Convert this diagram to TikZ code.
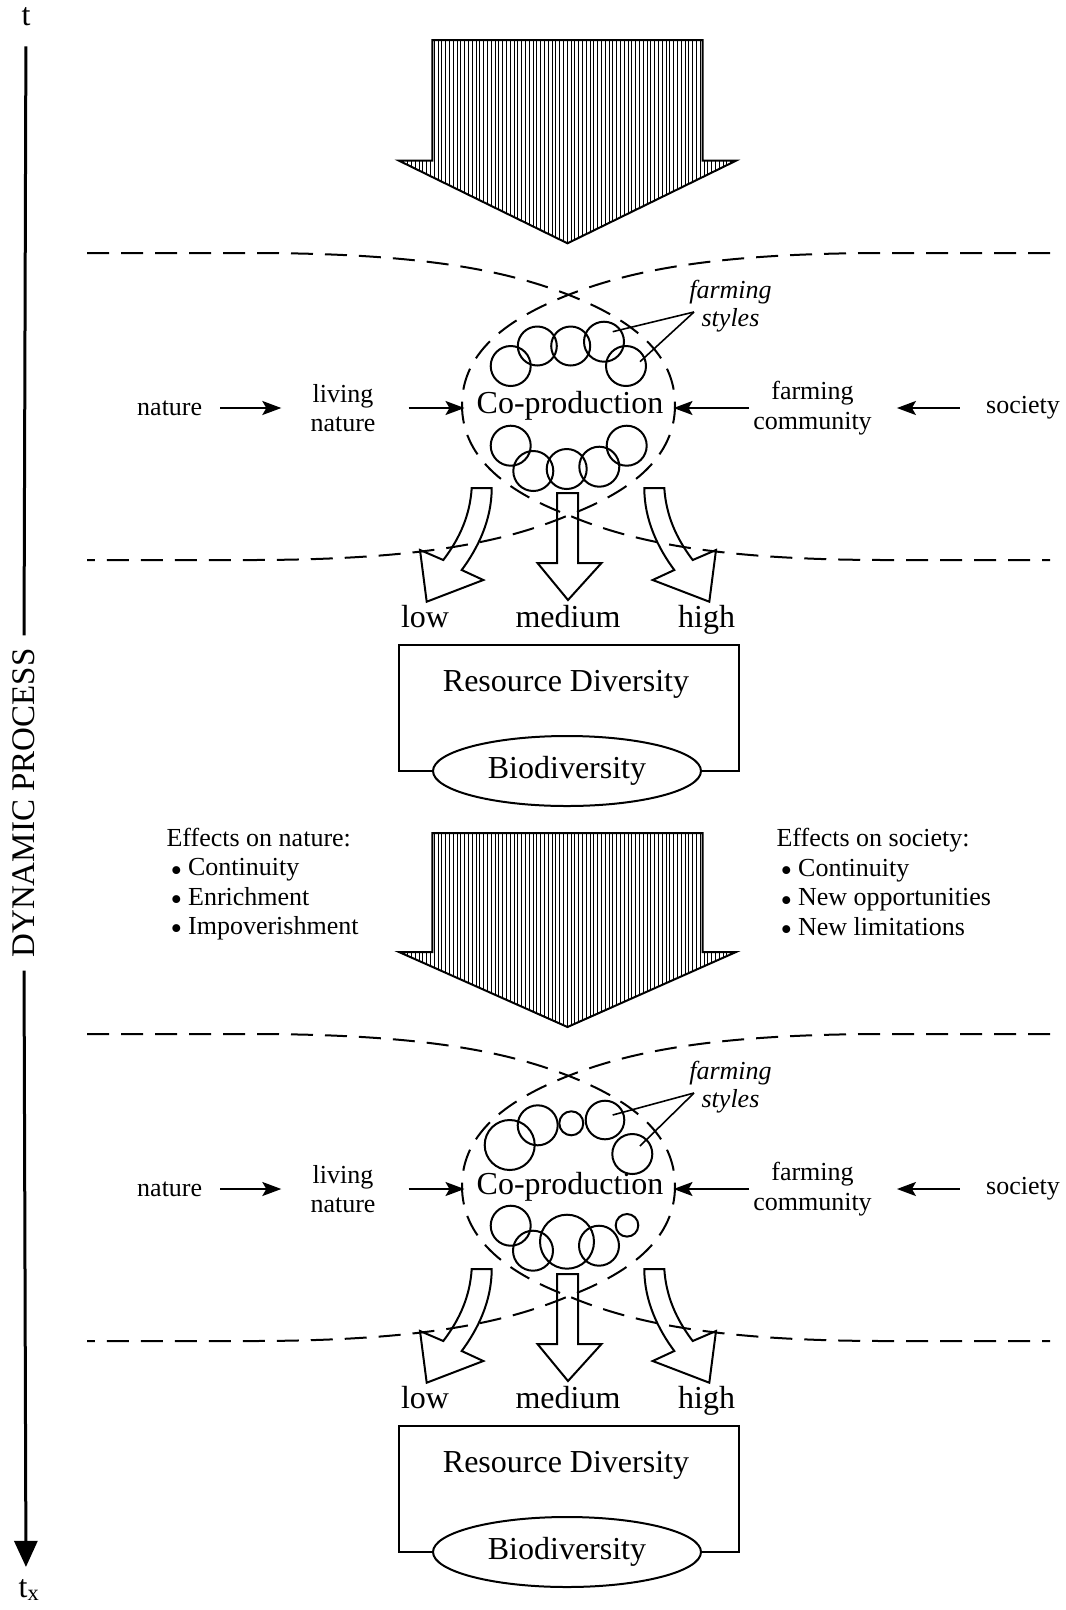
\documentclass[tikz,border=0pt]{standalone}
\usepackage{fontspec}
\setmainfont{Liberation Serif}
\usetikzlibrary{arrows.meta,calc,shapes.geometric}

\tikzset{
  txt/.style={font=\fontsize{26}{29.4}\selectfont, inner sep=0pt},
  big/.style={font=\fontsize{32}{36}\selectfont, inner sep=0pt},
  dashline/.style={line width=2pt, dash pattern=on 22pt off 12pt},
  ptr/.style={line width=2pt, -{Stealth[length=19pt,width=14pt,inset=4pt]}},
  blockarrow/.style={line width=2pt, line join=miter},
  farm/.style={circle, draw, line width=2pt, inner sep=0pt},
  leader/.style={line width=1.6pt},
}

% list bullet, set a little larger than the text
\newcommand\itemdot{\hspace{4pt}\smash{\raisebox{-5.5pt}{\fontsize{33}{29.4}\selectfont\textbullet}}\hspace{6pt}}

% hatched downward block arrow: #1 top, #2 shoulder, #3 tip
\newcommand\hatcharrow[3]{%
  \begin{scope}
    \clip (432.3,#1) -- (702.7,#1) -- (702.7,#2) -- (736,#2) -- (567.5,#3)
          -- (399,#2) -- (432.3,#2) -- cycle;
    \foreach \xx in {400,403.8,...,736}
      \draw[line width=0.9pt] (\xx,#1) -- (\xx,#3);
  \end{scope}
  \draw[blockarrow] (432.3,#1) -- (702.7,#1) -- (702.7,#2) -- (736,#2)
        -- (567.5,#3) -- (399,#2) -- (432.3,#2) -- cycle;
}

% one co-production stage: boundaries, inputs, outcomes, resource box
\newcommand\drawpanel[1]{%
  % crossing boundary curves
  \foreach \sx/\ox in {1/0,-1/1137}{
    \begin{scope}[xshift=\ox pt, xscale=\sx]
      \draw[dashline] (87,253) -- (250,253)
        .. controls (420,253) and (505,270) .. (569,295)
        .. controls (635,321) and (675,355) .. (675,405)
        .. controls (675,455) and (635,490) .. (569,515)
        .. controls (505,542) and (420,560) .. (250,560) -- (87,560);
    \end{scope}
  }
  % inputs
  \node[txt] (#1nat) at (169.7,408) {nature};
  \node[txt,align=center] (#1liv) at (343,408) {living\\nature};
  \node[big] (#1cop) at (570,406) {Co-production};
  \node[txt,align=center] (#1com) at (812.5,408) {farming\\community};
  \node[txt] (#1soc) at (1023,408) {society};
  \draw[ptr,shorten <=18pt,shorten >=29pt] (#1nat.east) -- (#1liv.west);
  \draw[ptr,shorten <=33pt,shorten >=12pt] (#1liv.east) -- (#1liv.east -| #1cop.west);
  \draw[ptr,shorten <=26pt,shorten >=25pt] (#1soc.west) -- (#1com.east);
  \draw[ptr,shorten <=4pt,shorten >=10pt] (#1com.west) -- (#1com.west -| #1cop.east);
  % farming styles label
  \node[txt,font=\fontsize{26}{28}\selectfont\itshape,align=center] (#1sty) at (730.5,306) {farming\\styles};
  \coordinate (#1ls) at (694,312);
  % outcome arrows
  \draw[blockarrow] (471.7,488) .. controls (470,515) and (460,538) .. (443.3,560)
     -- (420,550) -- (426.7,601.7) -- (483.3,580) -- (461.7,570)
     .. controls (478,548) and (491.7,520) .. (491.7,488) -- cycle;
  \draw[blockarrow] (557,493) -- (578,493) -- (578,563) -- (601.5,563)
     -- (568,600) -- (537.5,563) -- (557,563) -- cycle;
  \begin{scope}[xshift=1136pt, xscale=-1]
    \draw[blockarrow] (471.7,488) .. controls (470,515) and (460,538) .. (443.3,560)
       -- (420,550) -- (426.7,601.7) -- (483.3,580) -- (461.7,570)
       .. controls (478,548) and (491.7,520) .. (491.7,488) -- cycle;
  \end{scope}
  \node[big,anchor=base] (#1low) at (425,627) {low};
  \node[big,anchor=base] (#1med) at (568,627) {medium};
  \node[big,anchor=base] (#1hig) at (706.6,627) {high};
  % resource diversity box
  \node[big] (#1res) at (566,684) {Resource Diversity};
  \node[big,ellipse,draw,line width=2pt,minimum width=268pt,minimum height=70pt] (#1bio) at (567,771) {Biodiversity};
  \draw[line width=2pt] (#1bio.west) -| (398.5,645) -| (739,645) |- (#1bio.east);
}

\begin{document}
\begin{tikzpicture}[x=1pt,y=-1pt]
  \useasboundingbox (0,0) rectangle (1066,1610);

  % time axis
  \node[big] (tt) at (26,17) {t};
  \node[big,font=\fontsize{33}{36}\selectfont,rotate=90] (dp) at (23.5,803) {DYNAMIC PROCESS};
  \node[big] (tx) at (29,1590) {t\textsubscript{x}};
  \draw[line width=3pt,shorten <=20pt,shorten >=13pt] (tt) -- (dp);
  \draw[line width=3pt,shorten <=13pt,shorten >=12pt,-{Triangle[length=26pt,width=23pt]}] (dp) -- (tt |- tx.north);

  % driving forces
  \hatcharrow{40}{160.7}{243.3}
  \hatcharrow{833}{952}{1027}

  % first stage
  \drawpanel{a}
  \foreach \n/\cx/\cy/\r in {1/510.7/366/20, 2/537.3/346/19.5, 3/570.7/346/19.5, 4/604/341.7/20, 5/626/366/20,
                             6/510.7/445.7/20, 7/533.3/471/20, 8/566.7/469/20, 9/599.3/466.7/20, 10/626.7/445.7/20}
    \node[farm,minimum size=2*\r pt] (ac\n) at (\cx,\cy) {};
  \coordinate (ae1) at (612.7,331.7);
  \coordinate (ae2) at (640,361.7);
  \draw[leader] (als) -- (ae1);
  \draw[leader] (als) -- (ae2);

  % effects
  \node[txt,align=left,anchor=west] (effn) at (166.4,884)
    {Effects on nature:\\\itemdot Continuity\\\itemdot Enrichment\\\itemdot Impoverishment};
  \node[txt,align=left,anchor=west] (effs) at (776.4,882)
    {Effects on society:\\\itemdot Continuity\\\itemdot New opportunities\\\itemdot New limitations};

  % second stage
  \begin{scope}[yshift=-781pt]
    \drawpanel{b}
    \foreach \n/\cx/\cy/\r in {1/509.7/364/25, 2/537.7/344.3/20, 3/571.3/342.3/12, 4/605/339/19.3, 5/632.3/373/20,
                               6/510.7/444.7/20, 7/533/469.7/20, 8/567/460.7/27, 9/599/464.7/20, 10/627/444.3/11.3}
      \node[farm,minimum size=2*\r pt] (bc\n) at (\cx,\cy) {};
    \coordinate (be1) at (612.7,334);
    \coordinate (be2) at (640,365);
    \draw[leader] (bls) -- (be1);
    \draw[leader] (bls) -- (be2);
  \end{scope}
\end{tikzpicture}
\end{document}
